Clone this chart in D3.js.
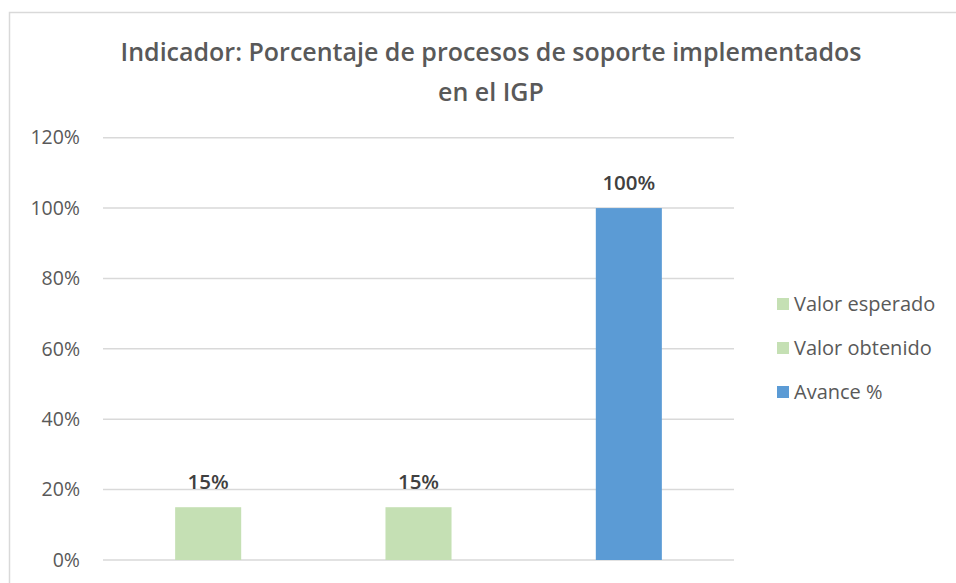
<!DOCTYPE html>
<html>
<head>
<meta charset="utf-8">
<script src="https://cdn.jsdelivr.net/npm/d3@7"></script>
<style>
  body { margin: 0; background: #fff; }
  text { font-family: "Open Sans", "Liberation Sans", sans-serif; }
</style>
</head>
<body>
<svg id="chart"></svg>
<script>
// chart data
const categories = ["Valor esperado", "Valor obtenido", "Avance %"];
const values = [0.15, 0.15, 1.00];
const barColors = ["#C5E0B4", "#C5E0B4", "#5B9BD5"];
const yTicks = [0, 0.2, 0.4, 0.6, 0.8, 1.0, 1.2];
const titleLines = ["Indicador: Porcentaje de procesos de soporte implementados", "en el IGP"];

const width = 956;
const height = 583;

const svg = d3.select("#chart")
    .attr("width", width)
    .attr("height", height);

// outer frame of the chart
svg.append("rect")
    .attr("x", 9.5)
    .attr("y", 12.5)
    .attr("width", width + 20)
    .attr("height", height + 20)
    .attr("fill", "#fff")
    .attr("stroke", "#d9d9d9")
    .attr("stroke-width", 1.5);

// title
svg.append("g").selectAll("text")
    .data(titleLines)
    .enter().append("text")
    .attr("x", 491)
    .attr("y", (d, i) => 61 + i * 40)
    .attr("text-anchor", "middle")
    .attr("font-size", 25)
    .attr("font-weight", 600)
    .attr("fill", "#595959")
    .text(d => d);

// scales
const yScale = d3.scaleLinear()
    .domain([0, 1.2])
    .range([560, 137.7]);

const xScale = d3.scaleBand()
    .domain(categories)
    .range([103, 734])
    .paddingInner(0.686)
    .paddingOuter(0.343);

// gridlines
svg.append("g").selectAll("line")
    .data(yTicks)
    .enter().append("line")
    .attr("x1", 103)
    .attr("x2", 734)
    .attr("y1", d => yScale(d))
    .attr("y2", d => yScale(d))
    .attr("stroke", "#d9d9d9")
    .attr("stroke-width", 1.5);

// y axis labels
const yAxis = d3.axisLeft(yScale)
    .tickValues(yTicks)
    .tickFormat(d3.format(".0%"))
    .tickSize(0)
    .tickPadding(0);

const yAxisG = svg.append("g")
    .attr("transform", "translate(80,0)")
    .call(yAxis);
yAxisG.select(".domain").remove();
yAxisG.selectAll("text")
    .attr("font-size", 19.5)
    .attr("fill", "#595959")
    .attr("font-family", "Open Sans");

// bars
svg.append("g").selectAll("rect")
    .data(values)
    .enter().append("rect")
    .attr("x", (d, i) => xScale(categories[i]))
    .attr("y", d => yScale(d))
    .attr("width", xScale.bandwidth())
    .attr("height", d => yScale(0) - yScale(d))
    .attr("fill", (d, i) => barColors[i]);

// value labels
svg.append("g").selectAll("text")
    .data(values)
    .enter().append("text")
    .attr("x", (d, i) => xScale(categories[i]) + xScale.bandwidth() / 2)
    .attr("y", d => yScale(d) - 18.5)
    .attr("text-anchor", "middle")
    .attr("font-size", 20.5)
    .attr("font-weight", 600)
    .attr("fill", "#404040")
    .text(d => d3.format(".0%")(d));

// legend
const legend = svg.append("g").selectAll("g")
    .data(categories)
    .enter().append("g")
    .attr("transform", (d, i) => `translate(777, ${304 + i * 44})`);

legend.append("rect")
    .attr("x", 0)
    .attr("y", -6)
    .attr("width", 12)
    .attr("height", 12)
    .attr("fill", (d, i) => barColors[i]);

legend.append("text")
    .attr("x", 17)
    .attr("y", 0)
    .attr("dy", "0.35em")
    .attr("font-size", 20)
    .attr("fill", "#595959")
    .text(d => d);
</script>
</body>
</html>
